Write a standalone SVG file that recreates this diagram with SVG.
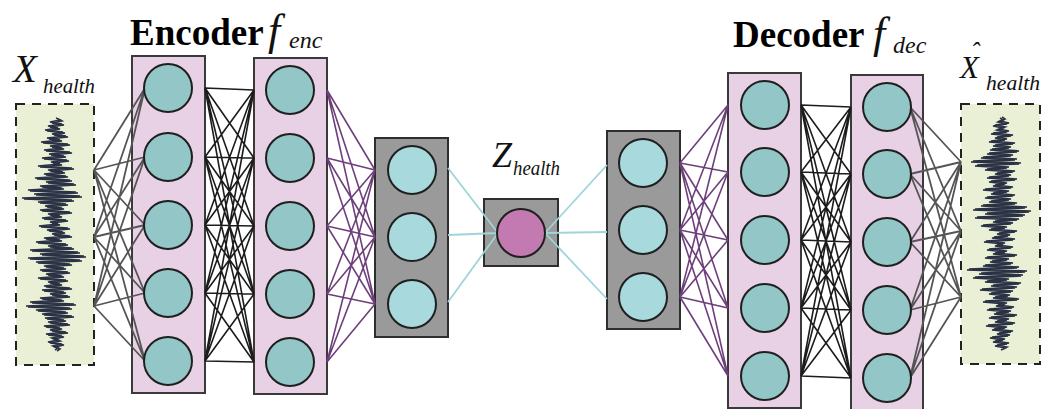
<svg xmlns="http://www.w3.org/2000/svg" width="1051" height="409" viewBox="0 0 1051 409">
<style>
.bg{fill:#ffffff}
.sig{fill:#eaf0d6;stroke:#222;stroke-width:2;stroke-dasharray:9 7}
.wave{fill:none;stroke:#2b3245;stroke-width:1.6;stroke-linejoin:miter}
.pink{fill:#e8d1e4;stroke:#3a3a3a;stroke-width:2}
.gray{fill:#9a9a9a;stroke:#2e2e2e;stroke-width:2}
.n1{fill:#93c6c6;stroke:#1f1f1f;stroke-width:2}
.n2{fill:#a8dadd;stroke:#1f1f1f;stroke-width:2}
.nz{fill:#c27ab0;stroke:#1f1f1f;stroke-width:2}
.cg{fill:none;stroke:#555;stroke-width:1.8}
.ck{fill:none;stroke:#1c1c1c;stroke-width:1.6}
.cp{fill:none;stroke:#6e3f7c;stroke-width:1.6}
.cc{fill:none;stroke:#9fd5d8;stroke-width:1.8}
.title{font-family:"Liberation Serif","Times New Roman",serif;font-weight:bold;font-size:37px;fill:#000}
.it{font-family:"Liberation Serif","Times New Roman",serif;font-style:italic;fill:#111}
</style>
<defs>
<path id="wave" d="M56,118 L60,120 L50,122 L62,124 L48,126 L58,128 L45,130 L63,132 L52,134 L66,136 L47,138 L60,140 L41,142 L68,144 L50,146 L62,148 L44,150 L70,152 L49,154 L64,156 L42,158 L67,160 L51,162 L60,164 L38,166 L72,168 L48,170 L63,172 L44,174 L66,176 L35,178 L70,180 L46,182 L74,184 L40,186 L62,188 L28,190 L76,192 L34,194 L80,196 L22,198 L72,200 L38,202 L66,204 L45,206 L62,208 L40,210 L70,212 L48,214 L60,216 L42,218 L66,220 L50,222 L58,224 L39,226 L68,228 L47,230 L63,232 L52,234 L70,236 L44,238 L60,240 L36,242 L66,244 L48,246 L72,248 L30,250 L78,252 L40,254 L84,256 L28,258 L80,260 L36,262 L70,264 L44,266 L64,268 L40,270 L68,272 L46,274 L62,276 L38,278 L66,280 L48,282 L60,284 L44,286 L70,288 L42,290 L64,292 L50,294 L68,296 L40,298 L62,300 L30,302 L74,304 L26,306 L70,308 L36,310 L66,312 L42,314 L72,316 L45,318 L64,320 L48,322 L68,324 L44,326 L60,328 L50,330 L66,332 L46,334 L62,336 L52,338 L58,340 L48,342 L62,344 L53,346 L58,348 L55,350"/>
</defs>
<rect class="bg" x="0" y="0" width="1051" height="409"/>

<g id="input-signal">
<rect class="sig" x="16" y="104" width="78" height="261"/>
<use href="#wave" class="wave"/>
<use href="#wave" class="wave" transform="translate(2,1)"/>
</g>
<g id="output-signal">
<rect class="sig" x="961" y="104" width="79" height="260"/>
<use href="#wave" class="wave" transform="translate(945,468) scale(1,-1)"/>
<use href="#wave" class="wave" transform="translate(947,467) scale(1,-1)"/>
</g>

<g id="enc-layer1"><rect class="pink" x="132" y="56" width="73" height="337"/></g>
<g id="enc-layer2"><rect class="pink" x="254" y="58" width="73" height="336"/></g>
<g id="enc-layer3"><rect class="gray" x="375" y="138" width="73" height="199"/></g>
<g id="latent-box"><rect class="gray" x="484" y="199" width="74" height="67"/></g>
<g id="dec-layer1"><rect class="gray" x="607" y="131" width="73" height="198"/></g>
<g id="dec-layer2"><rect class="pink" x="728" y="73" width="73" height="335"/></g>
<g id="dec-layer3"><rect class="pink" x="851" y="75" width="72" height="340"/></g>

<g id="connectors">
<path class="cg" d="M94,170 L145,88 M94,170 L145,157 M94,170 L145,225 M94,170 L145,293 M94,170 L145,361 M94,237 L145,88 M94,237 L145,157 M94,237 L145,225 M94,237 L145,293 M94,237 L145,361 M94,306 L145,88 M94,306 L145,157 M94,306 L145,225 M94,306 L145,293 M94,306 L145,361"/>
<path class="ck" d="M205,88 L254,90 M205,88 L254,158 M205,88 L254,226 M205,88 L254,294 M205,88 L254,362 M205,157 L254,90 M205,157 L254,158 M205,157 L254,226 M205,157 L254,294 M205,157 L254,362 M205,225 L254,90 M205,225 L254,158 M205,225 L254,226 M205,225 L254,294 M205,225 L254,362 M205,293 L254,90 M205,293 L254,158 M205,293 L254,226 M205,293 L254,294 M205,293 L254,362 M205,361 L254,90 M205,361 L254,158 M205,361 L254,226 M205,361 L254,294 M205,361 L254,362"/>
<path class="cp" d="M327,90 L375,170 M327,90 L375,237 M327,90 L375,304 M327,158 L375,170 M327,158 L375,237 M327,158 L375,304 M327,226 L375,170 M327,226 L375,237 M327,226 L375,304 M327,294 L375,170 M327,294 L375,237 M327,294 L375,304 M327,362 L375,170 M327,362 L375,237 M327,362 L375,304"/>
<path class="cc" d="M448,168 L498,233 M448,235 L498,233 M448,302 L498,233"/>
<path class="cc" d="M545,233 L607,165 M545,233 L607,232 M545,233 L607,299"/>
<path class="cp" d="M680,163 L728,105 M680,163 L728,172 M680,163 L728,240 M680,163 L728,308 M680,163 L728,376 M680,230 L728,105 M680,230 L728,172 M680,230 L728,240 M680,230 L728,308 M680,230 L728,376 M680,297 L728,105 M680,297 L728,172 M680,297 L728,240 M680,297 L728,308 M680,297 L728,376"/>
<path class="ck" d="M801,105 L851,107 M801,105 L851,174 M801,105 L851,242 M801,105 L851,310 M801,105 L851,378 M801,172 L851,107 M801,172 L851,174 M801,172 L851,242 M801,172 L851,310 M801,172 L851,378 M801,240 L851,107 M801,240 L851,174 M801,240 L851,242 M801,240 L851,310 M801,240 L851,378 M801,308 L851,107 M801,308 L851,174 M801,308 L851,242 M801,308 L851,310 M801,308 L851,378 M801,376 L851,107 M801,376 L851,174 M801,376 L851,242 M801,376 L851,310 M801,376 L851,378"/>
<path class="cg" d="M910,107 L961,162 M910,107 L961,231 M910,107 L961,297 M910,174 L961,162 M910,174 L961,231 M910,174 L961,297 M910,242 L961,162 M910,242 L961,231 M910,242 L961,297 M910,310 L961,162 M910,310 L961,231 M910,310 L961,297 M910,378 L961,162 M910,378 L961,231 M910,378 L961,297"/>
</g>

<g id="enc-layer1-neurons">
<circle class="n1" cx="168" cy="88" r="24"/><circle class="n1" cx="168" cy="157" r="24"/><circle class="n1" cx="168" cy="225" r="24"/><circle class="n1" cx="168" cy="293" r="24"/><circle class="n1" cx="168" cy="361" r="24"/>
</g>
<g id="enc-layer2-neurons">
<circle class="n1" cx="290" cy="90" r="24"/><circle class="n1" cx="290" cy="158" r="24"/><circle class="n1" cx="290" cy="226" r="24"/><circle class="n1" cx="290" cy="294" r="24"/><circle class="n1" cx="290" cy="362" r="24"/>
</g>
<g id="enc-layer3-neurons">
<circle class="n2" cx="412" cy="170" r="24"/><circle class="n2" cx="412" cy="237" r="24"/><circle class="n2" cx="412" cy="304" r="24"/>
</g>
<g id="latent-neuron"><circle class="nz" cx="521" cy="233" r="24"/></g>
<g id="dec-layer1-neurons">
<circle class="n2" cx="643" cy="163" r="24"/><circle class="n2" cx="643" cy="230" r="24"/><circle class="n2" cx="643" cy="297" r="24"/>
</g>
<g id="dec-layer2-neurons">
<circle class="n1" cx="765" cy="105" r="24"/><circle class="n1" cx="765" cy="172" r="24"/><circle class="n1" cx="765" cy="240" r="24"/><circle class="n1" cx="765" cy="308" r="24"/><circle class="n1" cx="765" cy="376" r="24"/>
</g>
<g id="dec-layer3-neurons">
<circle class="n1" cx="887" cy="107" r="24"/><circle class="n1" cx="887" cy="174" r="24"/><circle class="n1" cx="887" cy="242" r="24"/><circle class="n1" cx="887" cy="310" r="24"/><circle class="n1" cx="887" cy="378" r="24"/>
</g>

<g id="labels">
<text class="title" x="130" y="45">Encoder</text>
<text class="it" x="268" y="45" font-size="44">f</text>
<text class="it" x="289" y="48" font-size="24">enc</text>
<text class="title" x="733" y="47">Decoder</text>
<text class="it" x="873" y="48" font-size="44">f</text>
<text class="it" x="893" y="53" font-size="24">dec</text>
<text class="it" x="13" y="82" font-size="39">X</text>
<text class="it" x="43" y="93" font-size="21" textLength="52" lengthAdjust="spacingAndGlyphs">health</text>
<text class="it" x="492" y="167" font-size="36">Z</text>
<text class="it" x="513" y="175" font-size="21" textLength="47" lengthAdjust="spacingAndGlyphs">health</text>
<text class="it" x="960" y="78" font-size="31">X</text>
<text class="it" x="975" y="60" font-size="26" text-anchor="middle">ˆ</text>
<text class="it" x="986" y="90" font-size="21" textLength="54" lengthAdjust="spacingAndGlyphs">health</text>
</g>
</svg>
